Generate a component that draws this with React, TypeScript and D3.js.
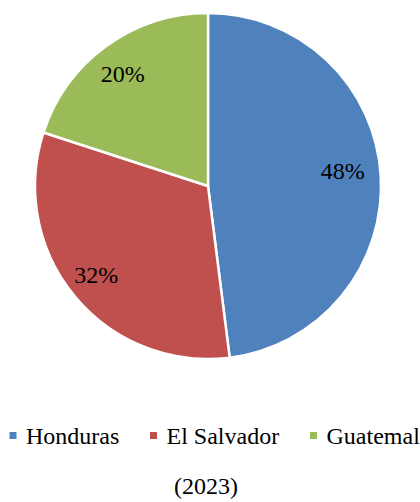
import * as d3 from "d3";
import React, { useEffect, useRef } from "react";

const countries = ["Honduras", "El Salvador", "Guatemala"];
const shares = [48, 32, 20];
const colors = ["#4F81BD", "#C0504D", "#9BBB59"];
const yearLabel = "(2023)";

const App: React.FC = () => {
  const svgRef = useRef<SVGSVGElement | null>(null);

  useEffect(() => {
    if (!svgRef.current) return;

    const width = 420;
    const height = 502;
    const cx = 208;
    const cy = 186;
    const radius = 173;
    const labelRadius = 140;
    const font =
      "'Liberation Serif', 'Tinos', 'Noto Serif', 'DejaVu Serif', 'FreeSerif', 'Times New Roman', Times, serif";

    const svg = d3.select(svgRef.current);
    svg.selectAll("*").remove();
    svg
      .attr("width", width)
      .attr("height", height)
      .attr("viewBox", `0 0 ${width} ${height}`)
      .style("font-family", font);

    const data = countries.map((name, i) => ({ name, value: shares[i] }));

    const color = d3.scaleOrdinal<string, string>().domain(countries).range(colors);

    const pie = d3
      .pie<{ name: string; value: number }>()
      .value((d) => d.value)
      .sort(null);

    const arc = d3
      .arc<d3.PieArcDatum<{ name: string; value: number }>>()
      .innerRadius(0)
      .outerRadius(radius);

    const labelArc = d3
      .arc<d3.PieArcDatum<{ name: string; value: number }>>()
      .innerRadius(labelRadius)
      .outerRadius(labelRadius);

    const arcs = pie(data);

    const g = svg.append("g").attr("transform", `translate(${cx},${cy})`);

    g.selectAll("path")
      .data(arcs)
      .join("path")
      .attr("d", arc)
      .attr("fill", (d) => color(d.data.name))
      .attr("stroke", "#fff")
      .attr("stroke-width", 2.5)
      .attr("stroke-linejoin", "round");

    // percentage labels, nudged a little like Excel's best fit
    const nudge = [
      [-5, -7],
      [-4, -1],
      [-3, 1],
    ];
    g.selectAll("text")
      .data(arcs)
      .join("text")
      .attr("transform", (d, i) => {
        const [x, y] = labelArc.centroid(d);
        return `translate(${x + nudge[i][0]},${y + nudge[i][1]})`;
      })
      .attr("text-anchor", "middle")
      .attr("dy", "0.35em")
      .attr("font-size", 24)
      .attr("fill", "#000")
      .text((d) => `${d.data.value}%`);

    // Legend
    const legendX = [9.5, 150, 310];
    const legend = svg
      .append("g")
      .selectAll("g")
      .data(countries)
      .join("g")
      .attr("transform", (_, i) => `translate(${legendX[i]},432)`);

    legend
      .append("rect")
      .attr("width", 7)
      .attr("height", 7)
      .attr("fill", (d) => color(d));

    legend
      .append("text")
      .attr("x", 16.5)
      .attr("y", 11.5)
      .attr("font-size", 24)
      .attr("fill", "#000")
      .text((d) => d);

    svg
      .append("text")
      .attr("x", 206)
      .attr("y", 494)
      .attr("text-anchor", "middle")
      .attr("font-size", 24)
      .attr("fill", "#000")
      .text(yearLabel);
  }, []);

  return (
    <svg
      ref={svgRef}
      style={{ position: "absolute", left: 0, top: 0, display: "block", background: "#fff" }}
    ></svg>
  );
};

export default App;
